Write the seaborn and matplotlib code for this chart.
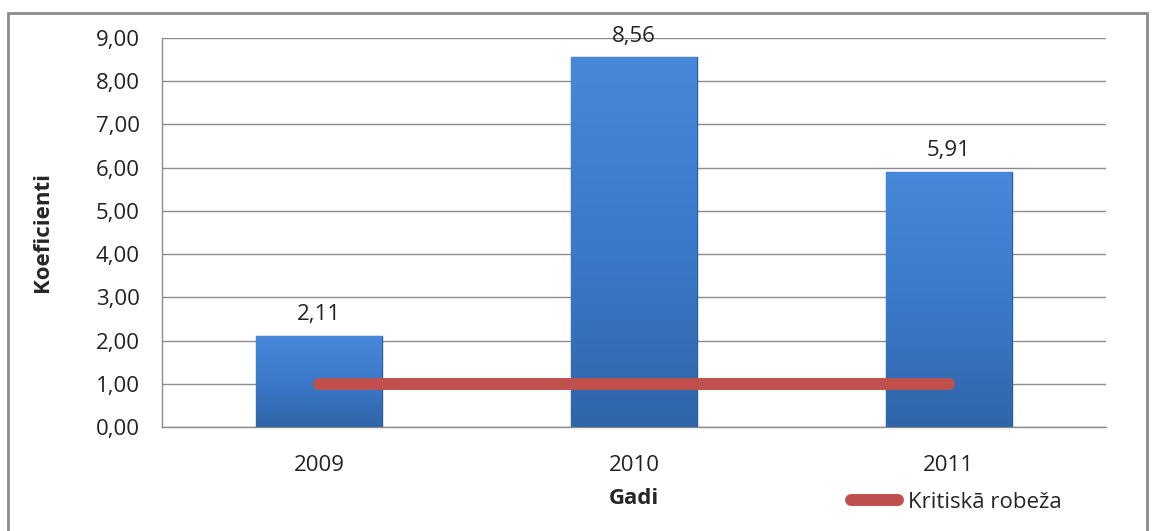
import numpy as np
import pandas as pd
import matplotlib
matplotlib.use("Agg")
import matplotlib.pyplot as plt
import seaborn as sns
from matplotlib.colors import LinearSegmentedColormap

# -------- Datos --------
gadi = ["2009", "2010", "2011"]
koeficienti = [2.11, 8.56, 5.91]
kritiska_robeza = [1.0, 1.0, 1.0]

df = pd.DataFrame({"Gadi": gadi, "Koeficienti": koeficienti})

sns.set_style("white")
plt.rcParams["font.family"] = ["Open Sans", "DejaVu Sans"]
FS = 16

fig = plt.figure(figsize=(11.59, 5.31), dpi=100)
ax = fig.add_axes([162 / 1159, 1 - 427 / 531, (1106 - 162) / 1159, (427 - 38) / 531])

# marco gris de la figura
fig.patches.append(plt.Rectangle((8 / 1159, -0.05), (1147 - 8) / 1159, 1 - 13 / 531 + 0.05,
                                 transform=fig.transFigure, fill=False,
                                 edgecolor="#8c8c8c", linewidth=2))

sns.barplot(data=df, x="Gadi", y="Koeficienti", ax=ax, width=0.40,
            color="#3d7fd0", edgecolor="#2d5d9c", linewidth=1, zorder=3)

# degradado vertical en las barras
cmap = LinearSegmentedColormap.from_list("azul", ["#3065a8", "#3b7acb", "#4788da"])
grad = np.linspace(0, 1, 256).reshape(-1, 1)
for p in ax.patches:
    x0, y0 = p.get_x(), p.get_y()
    w, h = p.get_width(), p.get_height()
    im = ax.imshow(grad, cmap=cmap, origin="lower", aspect="auto",
                   extent=[x0, x0 + w, y0, y0 + h], zorder=3.5)
    im.set_clip_path(p)

# línea crítica
sns.lineplot(x=np.arange(len(gadi)), y=kritiska_robeza, ax=ax, color="#c0504d",
             linewidth=8.6, solid_capstyle="round", zorder=5, label="Kritiskā robeža")

# etiquetas de valores
for i, v in enumerate(koeficienti):
    ax.annotate(f"{v:.2f}".replace(".", ","), (i, v), xytext=(0, 7.5),
                textcoords="offset points", ha="center", va="bottom",
                fontsize=FS, color="#222222")

ax.set_xlim(-0.5, 2.5)
ax.set_ylim(0, 9)
ax.set_yticks(np.arange(0, 10, 1))
ax.set_yticklabels([f"{v:.2f}".replace(".", ",") for v in np.arange(0, 10, 1)])
ax.yaxis.grid(True, color="#8c8c8c", linewidth=1)
ax.set_axisbelow(True)

ax.set_xticks(range(len(gadi)))
ax.set_xticklabels(gadi)
ax.set_xticks([-0.5, 0.5, 1.5, 2.5], minor=True)
ax.tick_params(axis="x", which="major", length=0, pad=20, labelsize=FS, colors="#222222")
ax.tick_params(axis="x", which="minor", length=8, color="#8c8c8c", direction="out")
ax.tick_params(axis="y", length=8, color="#8c8c8c", direction="out", pad=8,
               labelsize=FS, labelcolor="#222222")

for s in ["top", "right"]:
    ax.spines[s].set_visible(False)
for s in ["left", "bottom"]:
    ax.spines[s].set_color("#8c8c8c")
    ax.spines[s].set_linewidth(1)

ax.set_xlabel("Gadi", fontsize=FS, fontweight="bold")
ax.set_ylabel("Koeficienti", fontsize=FS, fontweight="bold")
ax.xaxis.set_label_coords(0.5, (427 - 498) / 389)
ax.xaxis.label.set_va("center")
ax.yaxis.set_label_coords((42 - 162) / 944, 0.5)
ax.yaxis.label.set_va("center")

leg = ax.legend(loc="center left", bbox_to_anchor=(851 / 1159, 1 - 502 / 531),
                bbox_transform=fig.transFigure, frameon=False, fontsize=FS,
                handlelength=2.1, handletextpad=0.45, borderpad=0, borderaxespad=0)
for line in leg.get_lines():
    line.set_solid_capstyle("round")

fig.savefig("out.png", dpi=100)
